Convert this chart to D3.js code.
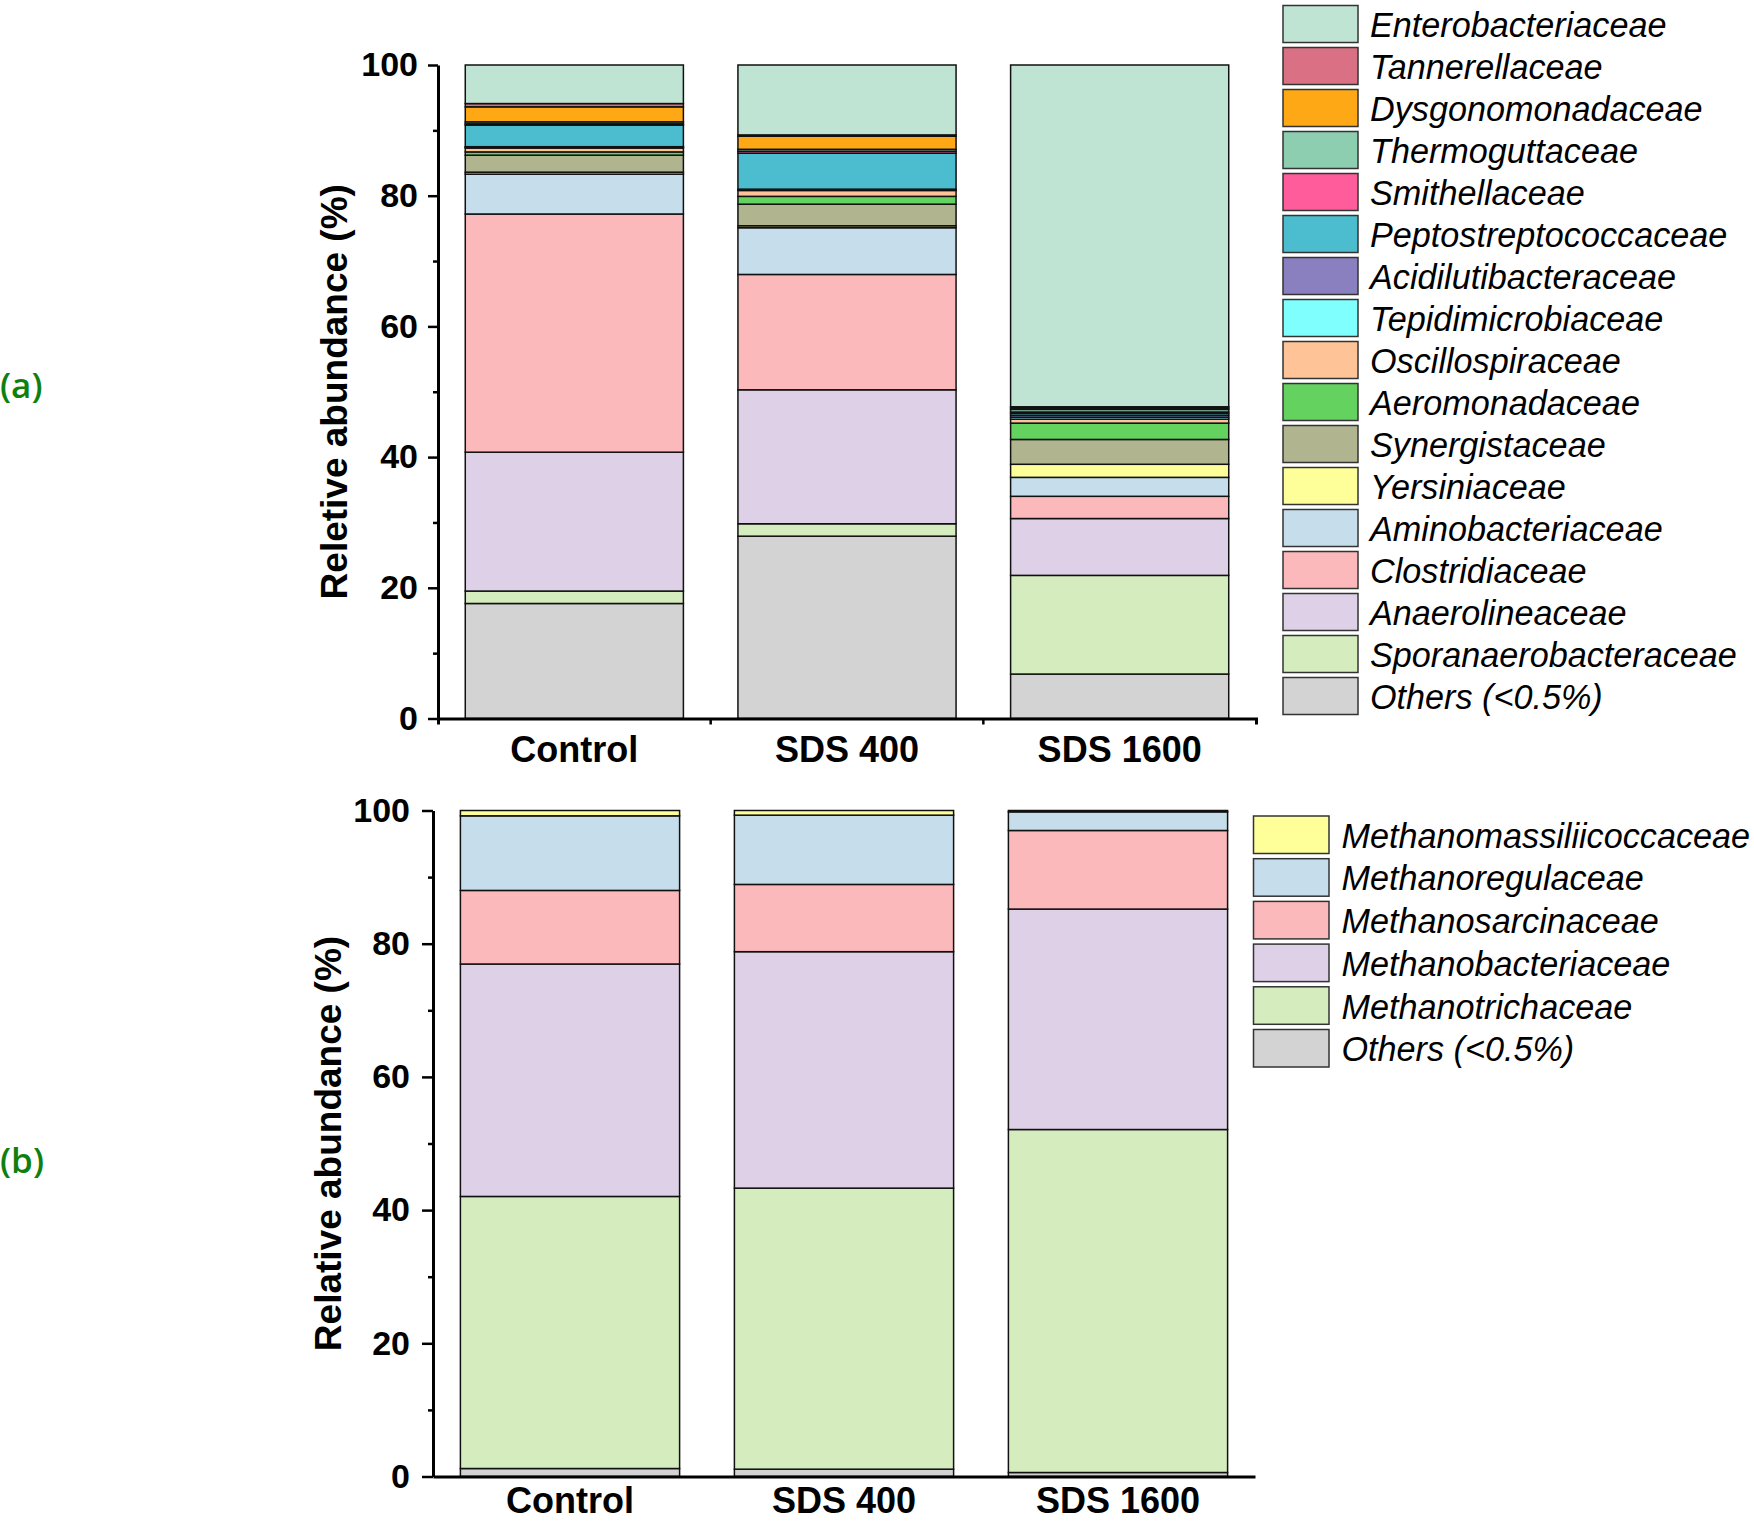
<!DOCTYPE html>
<html>
<head>
<meta charset="utf-8">
<script src="https://cdn.jsdelivr.net/npm/d3@7"></script>
<style>
  html, body { margin: 0; padding: 0; background: #fff; }
  svg { display: block; }
</style>
</head>
<body>
<svg id="chart" width="1754" height="1521"></svg>
<script>
// ---------------- DATA ----------------
const categories = ["Control", "SDS 400", "SDS 1600"];

// Panel (a): bacterial families, stacked bottom -> top
const bacTaxa = [
  "Others (<0.5%)", "Sporanaerobacteraceae", "Anaerolineaceae", "Clostridiaceae",
  "Aminobacteriaceae", "Yersiniaceae", "Synergistaceae", "Aeromonadaceae",
  "Oscillospiraceae", "Tepidimicrobiaceae", "Acidilutibacteraceae",
  "Peptostreptococcaceae", "Smithellaceae", "Thermoguttaceae",
  "Dysgonomonadaceae", "Tannerellaceae", "Enterobacteriaceae"
];
const bacColors = [
  "#d3d3d3", "#d4ecbe", "#ddd0e7", "#fbb9bb",
  "#c6deeb", "#ffff99", "#b0b48f", "#63d25e",
  "#fec497", "#80ffff", "#8a7fbf",
  "#4bbdce", "#ff5c9c", "#8dcdb0",
  "#fda814", "#d97083", "#c0e4d4"
];
const bacControl = [17.6, 1.9, 21.25, 36.45, 6.1, 0.3, 2.6, 0.5, 0.6, 0.1, 0.1, 3.3, 0.2, 0.3, 2.3, 0.5, 5.9];
const bacSDS400  = [27.9, 1.9, 20.5, 17.65, 7.15, 0.3, 3.3, 1.2, 0.9, 0.1, 0.1, 5.5, 0.3, 0.3, 2.0, 0.2, 10.7];
const bacSDS1600 = [6.8, 15.1, 8.7, 3.4, 2.9, 2.0, 3.8, 2.5, 0.6, 0.3, 0.3, 0.3, 0.2, 0.4, 0.2, 0.2, 52.3];

// Panel (b): archaeal families, stacked bottom -> top
const arcTaxa = [
  "Others (<0.5%)", "Methanotrichaceae", "Methanobacteriaceae",
  "Methanosarcinaceae", "Methanoregulaceae", "Methanomassiliicoccaceae"
];
const arcColors = ["#d3d3d3", "#d4ecbe", "#ddd0e7", "#fbb9bb", "#c6deeb", "#ffff99"];
const arcControl = [1.2, 40.85, 34.9, 11.05, 11.2, 0.8];
const arcSDS400  = [1.1, 42.2, 35.5, 10.1, 10.4, 0.7];
const arcSDS1600 = [0.6, 51.5, 33.1, 11.8, 2.8, 0.2];

const yMajorTicks = [0, 20, 40, 60, 80, 100];
const yMinorTicks = [10, 30, 50, 70, 90];

// ---------------- DRAW ----------------
const svg = d3.select("#chart");
svg.append("rect").attr("width", 1754).attr("height", 1521).attr("fill", "#fff");

const FONT = "'Liberation Sans', Arial, Helvetica, sans-serif";

function buildRows(taxa, series) {
  return categories.map((c, i) => {
    const row = { cat: c };
    taxa.forEach((t, j) => { row[t] = series[i][j]; });
    return row;
  });
}

function drawPanel(cfg) {
  const g = svg.append("g");
  const x = d3.scaleBand().domain(categories)
    .range([cfg.x0, cfg.x1]).paddingInner(0.2).paddingOuter(0.1);
  const y = d3.scaleLinear().domain([0, 100]).range([cfg.yBottom, cfg.yTop]);

  const rows = buildRows(cfg.taxa, cfg.series);
  const stack = d3.stack().keys(cfg.taxa)(rows);
  const color = d3.scaleOrdinal().domain(cfg.taxa).range(cfg.colors);

  // bars
  g.append("g").selectAll("g").data(stack).join("g")
    .attr("fill", d => color(d.key))
    .selectAll("rect").data(d => d).join("rect")
    .attr("x", d => x(d.data.cat))
    .attr("width", x.bandwidth())
    .attr("y", d => y(d[1]))
    .attr("height", d => y(d[0]) - y(d[1]))
    .attr("stroke", "#111")
    .attr("stroke-width", 1.5);

  // y axis major
  const yAxis = g.append("g").attr("transform", `translate(${cfg.x0},0)`)
    .call(d3.axisLeft(y).tickValues(yMajorTicks).tickSize(cfg.tickLen)
      .tickSizeOuter(0).tickPadding(cfg.tickPad).tickFormat(d3.format("d")));
  yAxis.select(".domain").attr("stroke", "#000").attr("stroke-width", 3);
  yAxis.selectAll(".tick line").attr("stroke", "#000").attr("stroke-width", 2.5);
  yAxis.selectAll(".tick text")
    .attr("font-family", FONT).attr("font-weight", "bold")
    .attr("font-size", 34).attr("fill", "#000");

  // y axis minor
  const yMinor = g.append("g").attr("transform", `translate(${cfg.x0},0)`)
    .call(d3.axisLeft(y).tickValues(yMinorTicks).tickSize(5).tickFormat(""));
  yMinor.select(".domain").remove();
  yMinor.selectAll(".tick line").attr("stroke", "#000").attr("stroke-width", 2.5);

  // x axis
  const xAxis = g.append("g").attr("transform", `translate(0,${cfg.yBottom})`)
    .call(d3.axisBottom(x).tickSize(0).tickSizeOuter(cfg.xOuterTick));
  xAxis.select(".domain").attr("stroke", "#000").attr("stroke-width", 3).attr("fill", "none");
  xAxis.selectAll(".tick text")
    .attr("font-family", FONT).attr("font-weight", "bold")
    .attr("font-size", 36).attr("fill", "#000")
    .attr("y", cfg.labelOffset).attr("dy", 0);

  // boundary ticks between categories
  if (cfg.xOuterTick > 0) {
    const step = x.step();
    const bounds = categories.slice(1).map(c => x(c) - step * x.paddingInner() / 2);
    g.append("g").selectAll("line").data(bounds).join("line")
      .attr("x1", d => d).attr("x2", d => d)
      .attr("y1", cfg.yBottom).attr("y2", cfg.yBottom + cfg.xOuterTick)
      .attr("stroke", "#000").attr("stroke-width", 2.5);
  }

  // y title
  g.append("text")
    .attr("transform", `translate(${cfg.titleX},${(cfg.yTop + cfg.yBottom) / 2}) rotate(-90)`)
    .attr("text-anchor", "middle")
    .attr("font-family", FONT).attr("font-weight", "bold").attr("font-size", 37)
    .attr("fill", "#000")
    .text(cfg.title);

  // legend (top -> bottom = reverse of stack order)
  const legTaxa = cfg.taxa.slice().reverse();
  const leg = g.append("g").selectAll("g").data(legTaxa).join("g")
    .attr("transform", (d, i) => `translate(${cfg.legX},${cfg.legY + i * cfg.legPitch})`);
  leg.append("rect")
    .attr("width", cfg.swW).attr("height", cfg.swH)
    .attr("fill", d => color(d))
    .attr("stroke", "#333").attr("stroke-width", 1.5);
  leg.append("text")
    .attr("x", cfg.legTextX).attr("y", cfg.swH / 2 + 13)
    .attr("font-family", FONT).attr("font-style", "italic")
    .attr("font-size", 34.2).attr("fill", "#000")
    .text(d => d);

  // panel label
  svg.append("text")
    .attr("x", 0).attr("y", cfg.panelLabelY)
    .attr("font-family", "'Open Sans', 'Noto Sans', sans-serif")
    .attr("font-weight", 600).attr("font-size", 35)
    .attr("fill", "#0e800e")
    .text(cfg.panelLabel);
}

drawPanel({
  taxa: bacTaxa, colors: bacColors,
  series: [bacControl, bacSDS400, bacSDS1600],
  x0: 438, x1: 1256, yTop: 65, yBottom: 718.5,
  tickLen: 10, tickPad: 10, xOuterTick: 6, labelOffset: 43,
  titleX: 347, title: "Reletive abundance (%)",
  legX: 1283, legY: 5.5, legPitch: 42, swW: 75, swH: 37, legTextX: 87,
  panelLabel: "(a)", panelLabelY: 398
});

drawPanel({
  taxa: arcTaxa, colors: arcColors,
  series: [arcControl, arcSDS400, arcSDS1600],
  x0: 433, x1: 1255, yTop: 810.5, yBottom: 1476.5,
  tickLen: 11, tickPad: 12, xOuterTick: 0, labelOffset: 36,
  titleX: 341, title: "Relative abundance (%)",
  legX: 1253.5, legY: 816, legPitch: 42.7, swW: 75.5, swH: 37.5, legTextX: 88,
  panelLabel: "(b)", panelLabelY: 1173
});
</script>
</body>
</html>
